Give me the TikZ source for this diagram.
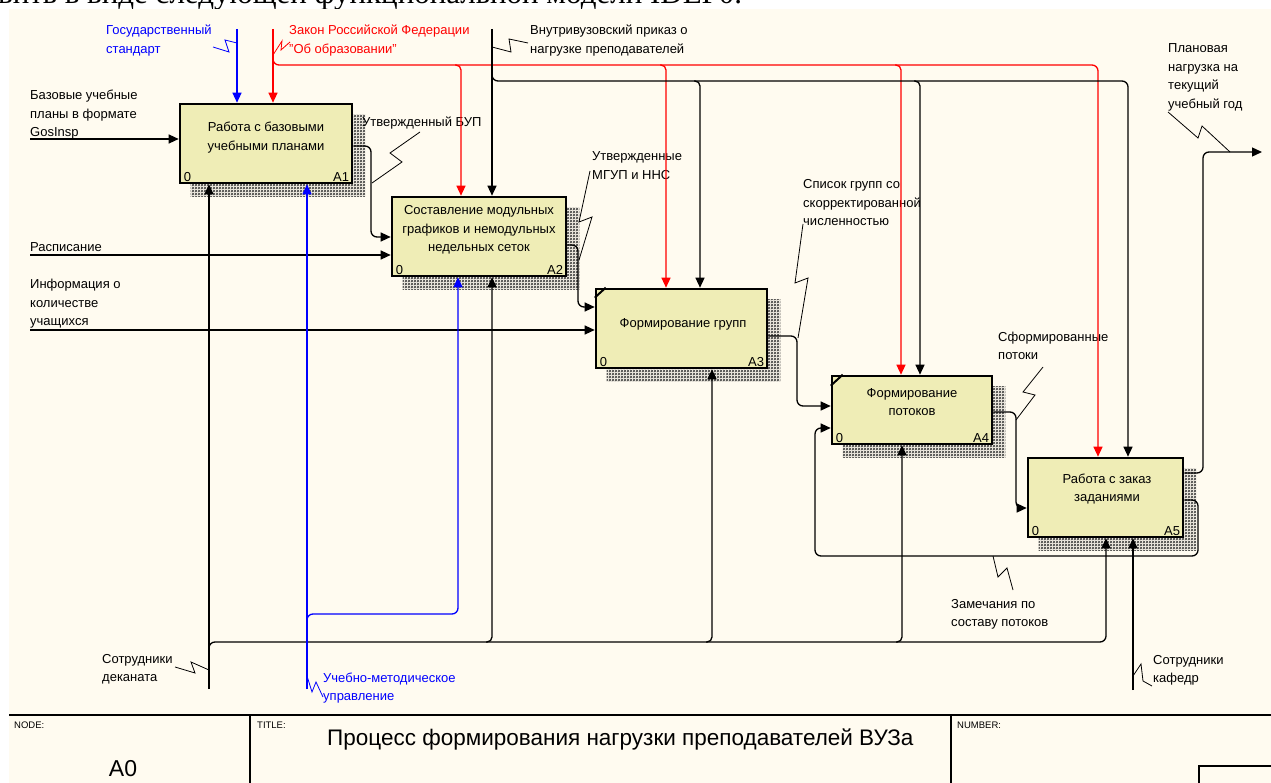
\documentclass[tikz,border=0pt]{standalone}
\usepackage{fontspec}
\setmainfont{Liberation Sans}
\newfontfamily\topserif{Liberation Serif}
\usetikzlibrary{arrows.meta,calc,patterns.meta}
\pgfdeclarelayer{back}
\pgfdeclarelayer{shade}
\pgfsetlayers{back,shade,main}

\definecolor{cream}{RGB}{255,251,240}
\definecolor{boxfill}{RGB}{239,237,182}
\definecolor{iblue}{RGB}{0,0,255}
\definecolor{ired}{RGB}{255,0,0}

\tikzdeclarepattern{
  name=idefhatch,
  type=uncolored,
  bottom left={(0pt,0pt)},
  top right={(3pt,3pt)},
  tile size={(3pt,3pt)},
  code={\draw[line width=0.55pt] (0pt,0pt) -- (3pt,3pt) (0pt,3pt) -- (3pt,0pt);}
}

\tikzset{
  idefbox/.style={draw=black, line width=2.6pt, fill=boxfill, rectangle, inner sep=0pt},
  boxtxt/.style={font=\fontsize{13}{18.5}\selectfont, align=center, anchor=base, inner sep=0pt},
  boxnum/.style={font=\fontsize{13}{15}\selectfont, inner sep=0pt},
  lbl/.style={font=\fontsize{13}{18.5}\selectfont, align=left, anchor=base west, inner sep=0pt},
  tbsmall/.style={font=\fontsize{9.5}{11}\selectfont, anchor=base west, inner sep=0pt},
  conn/.style={line width=1.3pt, -{Triangle[length=10pt,width=9pt]}},
  wire/.style={line width=1.3pt},
  zig/.style={line width=0.8pt},
  shadowbox/.style={pattern=idefhatch, pattern color=black!80}
}

\begin{document}
\begin{tikzpicture}[x=1pt,y=-1pt]
\useasboundingbox (0,0) rectangle (1271,783);

% background, partly visible text of the page above
\begin{pgfonlayer}{back}
  \fill[white] (0,0) rectangle (1271,783);
  \node[anchor=base west, inner sep=0pt, font=\topserif\fontsize{31}{31}\selectfont] (toptext) at (-2,4) {вить в виде следующей функциональной модели IDEF0.};
  \fill[cream] (9,9) rectangle (1271,783);
\end{pgfonlayer}

% activity boxes
\node[idefbox, minimum width=172pt, minimum height=79pt] (A1) at (266,143.5) {};
\node[idefbox, minimum width=174pt, minimum height=79pt] (A2) at (479,236.5) {};
\node[idefbox, minimum width=171pt, minimum height=79pt] (A3) at (681.5,328.5) {};
\node[idefbox, minimum width=160pt, minimum height=68pt] (A4) at (912,410) {};
\node[idefbox, minimum width=155pt, minimum height=79pt] (A5) at (1105.5,497.5) {};

\begin{pgfonlayer}{shade}
  \foreach \b in {A1,A2,A3,A4,A5}{
    \fill[shadowbox] ($(\b.north west)+(12,12)$) rectangle ($(\b.south east)+(12,12)$);
  }
\end{pgfonlayer}

\draw[line width=2pt] ($(A3.north west)+(0,10)$) -- ($(A3.north west)+(11,0)$);
\draw[line width=2pt] ($(A4.north west)+(0,11)$) -- ($(A4.north west)+(12,0)$);

% (multi-line nodes: base = baseline of the last line)
\node[boxtxt] (A1t) at (266,150.5) {Работа с базовыми\\учебными планами};
\node[boxtxt] (A2t) at (479,252) {Составление модульных\\графиков и немодульных\\недельных сеток};
\node[boxtxt] (A3t) at (683,327) {Формирование групп};
\node[boxtxt] (A4t) at (912,415.5) {Формирование\\потоков};
\node[boxtxt] (A5t) at (1107,501.5) {Работа с заказ\\заданиями};

\foreach \b/\n in {A1/A1,A2/A2,A3/A3,A4/A4,A5/A5}{
  \node[boxnum, anchor=base west] (\b z) at ($(\b.south west)+(5,-3)$) {0};
  \node[boxnum, anchor=base east] (\b n) at ($(\b.south east)+(-4,-3)$) {\n};
}

% arrow labels
\node[lbl, text=iblue] (Lgs) at (106,53.5) {Государственный\\стандарт};
\node[lbl, text=ired] (Llaw) at (289,53.5) {Закон Российской Федерации\\"Об образовании"};
\node[lbl] (Lord) at (530,53.5) {Внутривузовский приказ о\\нагрузке преподавателей};
\node[lbl] (Lbase) at (30,137) {Базовые учебные\\планы в формате\\GosInsp};
\node[lbl] (Lrasp) at (30,252) {Расписание};
\node[lbl] (Linfo) at (30,326) {Информация о\\количестве\\учащихся};
\node[lbl] (Lbup) at (362,127) {Утвержденный БУП};
\node[lbl] (Lmgup) at (592,179.5) {Утвержденные\\МГУП и ННС};
\node[lbl] (Lspis) at (803,226) {Список групп со\\скорректированной\\численностью};
\node[lbl] (Lpot) at (998,359.5) {Сформированные\\потоки};
\node[lbl] (Lplan) at (1168,108.5) {Плановая\\нагрузка на\\текущий\\учебный год};
\node[lbl] (Lzam) at (951,626.5) {Замечания по\\составу потоков};
\node[lbl] (Ldek) at (102,681.5) {Сотрудники\\деканата};
\node[lbl, text=iblue] (Lumu) at (323,700.5) {Учебно-методическое\\управление};
\node[lbl] (Lkaf) at (1153,682.5) {Сотрудники\\кафедр};

% free ends and branch points
\coordinate (gsTop) at (237,29);
\coordinate (lawTop) at (273,29);
\coordinate (lawBus) at (273,65);
\coordinate (r2) at (461,65);
\coordinate (r3) at (666,65);
\coordinate (r4) at (901,65);
\coordinate (r5) at (1098,65);
\coordinate (ordTop) at (492,29);
\coordinate (ordBus) at (492,81);
\coordinate (b3) at (700,81);
\coordinate (b4) at (920,81);
\coordinate (b5) at (1128,81);
\coordinate (in1) at (30,139);
\coordinate (in2) at (30,255);
\coordinate (in3) at (30,330);
\coordinate (o1) at (371,237);
\coordinate (o2) at (578,307);
\coordinate (o3) at (797,406);
\coordinate (o4) at (1016,508);
\coordinate (o5) at (1203,152);
\coordinate (outEnd) at (1262,152);
\coordinate (fb1) at (1198,556);
\coordinate (fb2) at (815,556);
\coordinate (decBot) at (209,689);
\coordinate (decBus) at (209,642);
\coordinate (m2) at (492,642);
\coordinate (m3) at (712,642);
\coordinate (m4) at (902,642);
\coordinate (m5) at (1106,642);
\coordinate (umBot) at (307,689);
\coordinate (umBus) at (307,614);
\coordinate (um2) at (458,614);
\coordinate (kafBot) at (1133,690);

% controls
\draw[conn, iblue] (gsTop) -- (A1.north -| gsTop);
\draw[conn, ired] (lawTop) -- (A1.north -| lawTop);
\draw[conn, ired, rounded corners=6pt] ([yshift=6pt]lawBus) |- (r5) -- (A5.north -| r5);
\draw[conn, ired, rounded corners=5pt] ([xshift=-6pt]r2) -| (A2.north -| r2);
\draw[conn, ired, rounded corners=5pt] ([xshift=-6pt]r3) -| (A3.north -| r3);
\draw[conn, ired, rounded corners=5pt] ([xshift=-6pt]r4) -| (A4.north -| r4);
\draw[conn] (ordTop) -- (A2.north -| ordTop);
\draw[conn, rounded corners=6pt] ([yshift=6pt]ordBus) |- (b5) -- (A5.north -| b5);
\draw[conn, rounded corners=5pt] ([xshift=-6pt]b3) -| (A3.north -| b3);
\draw[conn, rounded corners=5pt] ([xshift=-6pt]b4) -| (A4.north -| b4);

% inputs
\draw[conn] (in1) -- (A1.west |- in1);
\draw[conn] (in2) -- (A2.west |- in2);
\draw[conn] (in3) -- (A3.west |- in3);

% outputs
\draw[conn, rounded corners=6pt] ([yshift=-2.5pt]A1.east) -| (o1) -- (A2.west |- o1);
\draw[conn, rounded corners=6pt] ([yshift=-8.5pt]A2.east) -| (o2) -- (A3.west |- o2);
\draw[conn, rounded corners=6pt] ([yshift=-7.5pt]A3.east) -| (o3) -- (A4.west |- o3);
\draw[conn, rounded corners=6pt] ([yshift=-2pt]A4.east) -| (o4) -- (A5.west |- o4);
\draw[conn, rounded corners=6pt] ([yshift=24.5pt]A5.east) -| (o5) -- (outEnd);
\draw[conn, rounded corners=6pt] ([yshift=-2.5pt]A5.east) -| (fb1) -- (fb2) |- ([yshift=-18pt]A4.west);

% mechanisms
\draw[conn] (decBot) -- (A1.south -| decBot);
\draw[conn, rounded corners=6pt] ([yshift=-6pt]decBus) |- (m5) -- (A5.south -| m5);
\draw[conn, rounded corners=5pt] ([xshift=-6pt]m2) -| (A2.south -| m2);
\draw[conn, rounded corners=5pt] ([xshift=-6pt]m3) -| (A3.south -| m3);
\draw[conn, rounded corners=5pt] ([xshift=-6pt]m4) -| (A4.south -| m4);
\draw[conn, iblue] (umBot) -- (A1.south -| umBot);
\draw[conn, iblue, rounded corners=6pt] ([yshift=-6pt]umBus) |- (um2) -- (A2.south -| um2);
\draw[conn] (kafBot) -- (A5.south -| kafBot);

% label squiggles
\draw[zig, iblue] (213,47) -- (229,52) -- (225,40) -- (237,43);
\draw[zig, ired] (273,55) -- (282,41) -- (281,50) -- (290,42);
\draw[zig] (492,47) -- (511,52) -- (509,39) -- (528,43);
\draw[zig] (372,183) -- (402,162) -- (390,153) -- (420,132);
\draw[zig] (590,171) -- (579,222) -- (592,217) -- (579,260);
\draw[zig] (803,224) -- (795,283) -- (808,278) -- (798,338);
\draw[zig] (1043,367) -- (1023,392) -- (1035,395) -- (1016,420);
\draw[zig] (1168,112) -- (1198,138) -- (1202,126) -- (1230,152);
\draw[zig] (993,556) -- (998,577) -- (1007,568) -- (1013,590);
\draw[zig] (175,667) -- (195,673) -- (191,662) -- (209,670);
\draw[zig, iblue] (307,676) -- (312,692) -- (316,682) -- (323,697);
\draw[zig] (1133,676) -- (1141,664) -- (1143,681) -- (1152,686);

% title block
\draw[wire] (9,715) -- (1271,715);
\draw[wire] (250,715) -- (250,783);
\draw[wire] (951,715) -- (951,783);
\draw[wire] (1199,783) -- (1199,766) -- (1271,766);
\node[tbsmall] (Tnode) at (14,728) {NODE:};
\node[tbsmall] (Ttitle) at (257,728) {TITLE:};
\node[tbsmall] (Tnumber) at (957,728) {NUMBER:};
\node[anchor=base west, inner sep=0pt, font=\fontsize{22.5}{25}\selectfont] (Tname) at (327,745) {Процесс формирования нагрузки преподавателей ВУЗа};
\node[anchor=base, inner sep=0pt, font=\fontsize{23}{25}\selectfont] (Tid) at (123,776) {A0};
\end{tikzpicture}
\end{document}
